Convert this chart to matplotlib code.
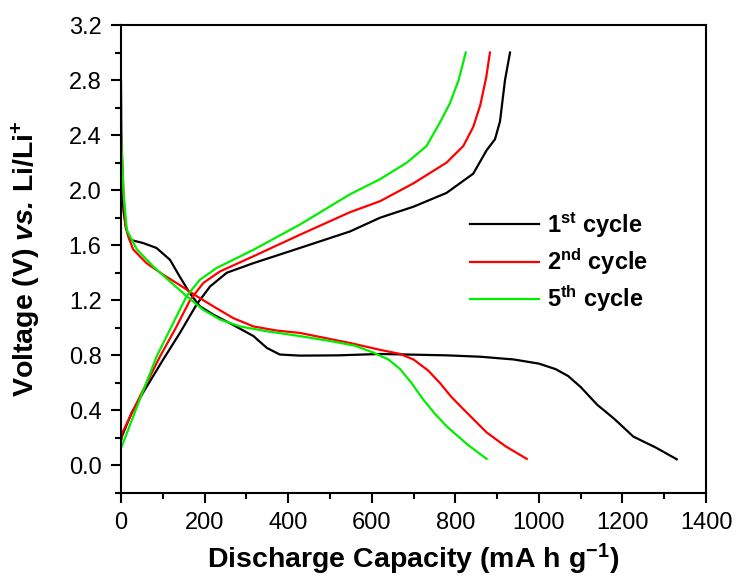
import matplotlib
matplotlib.use("Agg")
import matplotlib.pyplot as plt
from matplotlib.ticker import MultipleLocator, FormatStrFormatter

# ---- data ----
c1_dis_x = [0, 1, 3, 6, 12, 21, 53, 85, 117, 141, 165, 189, 221, 269, 317, 349, 380, 428, 520, 620, 700, 780, 860, 940, 1000, 1040, 1070, 1100, 1140, 1180, 1226, 1280, 1330]
c1_dis_y = [2.79, 2.30, 2.00, 1.85, 1.72, 1.64, 1.616, 1.58, 1.495, 1.37, 1.25, 1.156, 1.096, 1.02, 0.94, 0.854, 0.806, 0.798, 0.80, 0.81, 0.805, 0.80, 0.79, 0.77, 0.74, 0.70, 0.65, 0.57, 0.44, 0.34, 0.21, 0.13, 0.045]
c1_ch_x = [0, 2, 25, 53, 101, 141, 181, 213, 253, 317, 428, 548, 620, 700, 779, 843, 875, 895, 907, 919, 931]
c1_ch_y = [0.18, 0.21, 0.38, 0.53, 0.77, 0.963, 1.17, 1.30, 1.40, 1.47, 1.58, 1.70, 1.80, 1.88, 1.98, 2.12, 2.29, 2.37, 2.50, 2.80, 3.00]

c2_dis_x = [0, 3, 6, 10, 18, 29, 61, 101, 141, 181, 221, 269, 317, 373, 428, 548, 620, 668, 700, 735, 763, 790, 819, 875, 920, 971]
c2_dis_y = [2.41, 2.22, 1.98, 1.76, 1.66, 1.57, 1.47, 1.386, 1.31, 1.23, 1.156, 1.07, 1.01, 0.98, 0.963, 0.89, 0.84, 0.81, 0.77, 0.69, 0.60, 0.50, 0.41, 0.24, 0.14, 0.048]
c2_ch_x = [0, 2, 45, 93, 133, 165, 197, 237, 317, 428, 548, 620, 700, 779, 819, 843, 860, 874, 883]
c2_ch_y = [0.18, 0.23, 0.50, 0.79, 1.01, 1.20, 1.326, 1.41, 1.52, 1.676, 1.84, 1.92, 2.05, 2.20, 2.32, 2.46, 2.62, 2.82, 3.00]

c5_dis_x = [0, 3, 6, 14, 38, 77, 117, 157, 197, 237, 285, 349, 428, 508, 560, 604, 640, 668, 695, 723, 750, 779, 830, 875]
c5_dis_y = [2.39, 2.20, 1.98, 1.71, 1.57, 1.446, 1.337, 1.23, 1.13, 1.06, 1.01, 0.975, 0.94, 0.90, 0.87, 0.82, 0.77, 0.70, 0.60, 0.48, 0.38, 0.285, 0.15, 0.048]
c5_ch_x = [0, 2, 45, 85, 125, 157, 189, 229, 317, 428, 548, 620, 684, 731, 763, 787, 808, 825]
c5_ch_y = [0.13, 0.14, 0.48, 0.79, 1.035, 1.23, 1.35, 1.435, 1.567, 1.75, 1.97, 2.08, 2.20, 2.32, 2.49, 2.63, 2.80, 3.00]

labels = [r'1$^{\mathbf{st}}$ cycle', r'2$^{\mathbf{nd}}$ cycle', r'5$^{\mathbf{th}}$ cycle']
colors = ['#000000', '#ff0000', '#00ee00']
y_ticks = [0.0, 0.4, 0.8, 1.2, 1.6, 2.0, 2.4, 2.8, 3.2]

plt.rcParams['font.family'] = ['Liberation Sans', 'DejaVu Sans']
plt.rcParams['mathtext.fontset'] = 'custom'
plt.rcParams['mathtext.rm'] = 'Liberation Sans'
plt.rcParams['mathtext.it'] = 'Liberation Sans:italic'
plt.rcParams['mathtext.bf'] = 'Liberation Sans:bold'
plt.rcParams['mathtext.bfit'] = 'Liberation Sans:bold:italic'

fig = plt.figure(figsize=(7.4, 5.84), dpi=100)
ax = fig.add_axes([121/740, 1-493/584, 585/740, 468/584])

series = [(c1_dis_x, c1_dis_y, c1_ch_x, c1_ch_y),
          (c2_dis_x, c2_dis_y, c2_ch_x, c2_ch_y),
          (c5_dis_x, c5_dis_y, c5_ch_x, c5_ch_y)]
handles = []
for (dx, dy, cx, cy), col, lab in zip(series, colors, labels):
    h, = ax.plot(dx, dy, color=col, lw=1.6, label=lab, solid_joinstyle='round')
    ax.plot(cx, cy, color=col, lw=1.6, solid_joinstyle='round')
    handles.append(h)

ax.set_xlim(0, 1400)
ax.set_ylim(-0.2, 3.2)
ax.xaxis.set_major_locator(MultipleLocator(200))
ax.xaxis.set_minor_locator(MultipleLocator(100))
ax.yaxis.set_minor_locator(MultipleLocator(0.2))
ax.set_yticks(y_ticks)
ax.yaxis.set_major_formatter(FormatStrFormatter('%.1f'))

for s in ax.spines.values():
    s.set_linewidth(1.5)
ax.tick_params(which='major', direction='out', length=7, width=1.5, labelsize=17, pad=7)
ax.tick_params(which='minor', direction='out', length=4, width=1.5)

ax.set_xlabel(r'Discharge Capacity (mA h g$^{\mathbf{-1}}$)', fontsize=20.5, fontweight='bold')
ax.set_ylabel(r'Voltage (V) $\mathbfit{vs.}\,$Li/Li$^{\mathbf{+}}$', fontsize=20.5, fontweight='bold')
ax.xaxis.set_label_coords(0.5, -0.105)
ax.yaxis.set_label_coords(-0.133, 0.5)

leg = ax.legend(handles=handles, loc='upper left', bbox_to_anchor=(0.597, 0.604), frameon=False,
                prop={'weight': 'bold', 'size': 17}, handlelength=2.9, handletextpad=0.35,
                labelspacing=0.28, borderpad=0, borderaxespad=0)

fig.savefig('out.png', dpi=100)
